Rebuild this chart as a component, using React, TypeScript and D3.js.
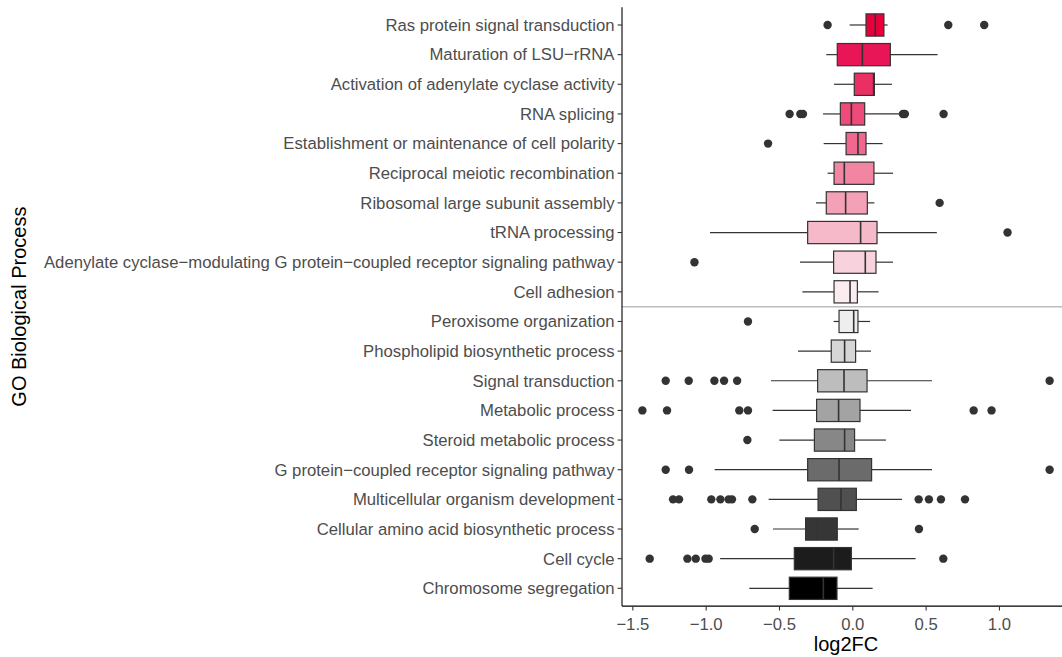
import React from "react";
import * as d3 from "d3";

// GO biological process terms, top to bottom
const categories = [
  "Ras protein signal transduction",
  "Maturation of LSU\u2212rRNA",
  "Activation of adenylate cyclase activity",
  "RNA splicing",
  "Establishment or maintenance of cell polarity",
  "Reciprocal meiotic recombination",
  "Ribosomal large subunit assembly",
  "tRNA processing",
  "Adenylate cyclase\u2212modulating G protein\u2212coupled receptor signaling pathway",
  "Cell adhesion",
  "Peroxisome organization",
  "Phospholipid biosynthetic process",
  "Signal transduction",
  "Metabolic process",
  "Steroid metabolic process",
  "G protein\u2212coupled receptor signaling pathway",
  "Multicellular organism development",
  "Cellular amino acid biosynthetic process",
  "Cell cycle",
  "Chromosome segregation",
];

// Box statistics (log2FC)
const whiskerLow = [-0.022, -0.181, -0.128, -0.203, -0.199, -0.172, -0.251, -0.974, -0.36, -0.344,
  -0.131, -0.374, -0.558, -0.547, -0.501, -0.942, -0.574, -0.544, -0.905, -0.706];
const q1 = [0.09, -0.106, 0.01, -0.085, -0.046, -0.128, -0.181, -0.308, -0.131, -0.128,
  -0.094, -0.147, -0.24, -0.247, -0.262, -0.308, -0.237, -0.322, -0.399, -0.433];
const medians = [0.153, 0.065, 0.142, -0.01, 0.035, -0.058, -0.049, 0.053, 0.085, -0.019,
  0.006, -0.056, -0.06, -0.097, -0.056, -0.094, -0.081, -0.247, -0.131, -0.201];
const q3 = [0.212, 0.256, 0.147, 0.081, 0.09, 0.144, 0.099, 0.165, 0.158, 0.031,
  0.035, 0.019, 0.097, 0.049, 0.012, 0.128, 0.024, -0.106, -0.01, -0.108];
const whiskerHigh = [0.237, 0.578, 0.267, 0.329, 0.203, 0.274, 0.147, 0.573, 0.274, 0.176,
  0.117, 0.124, 0.54, 0.397, 0.226, 0.54, 0.335, 0.04, 0.428, 0.135];
const outliers: number[][] = [
  [-0.172, 0.651, 0.896],
  [],
  [],
  [-0.431, -0.358, -0.34, 0.342, 0.355, 0.619],
  [-0.578],
  [],
  [0.592],
  [1.055],
  [-1.08],
  [],
  [-0.715],
  [],
  [-1.276, -1.119, -0.944, -0.878, -0.789, 1.342],
  [-1.435, -1.267, -0.774, -0.715, 0.824, 0.946],
  [-0.719],
  [-1.276, -1.117, 1.342],
  [-1.226, -1.185, -0.965, -0.903, -0.847, -0.824, -0.685, 0.449, 0.519, 0.601, 0.765],
  [-0.669, 0.451],
  [-1.385, -1.128, -1.071, -1.005, -0.983, 0.617],
  [],
];

const fills = [
  "#e8003c", "#e81656", "#ea2f64", "#ee4b7a", "#f0688e",
  "#f285a2", "#f4a0b6", "#f6b9ca", "#f8d3dd", "#fbecf0",
  "#eeeeee", "#d6d6d6", "#bdbdbd", "#a3a3a3", "#878787",
  "#6b6b6b", "#505050", "#363636", "#1c1c1c", "#000000",
];

const xTicks = [-1.5, -1.0, -0.5, 0.0, 0.5, 1.0];

const W = 1062;
const H = 657;
const panel = { left: 622, right: 1070, top: 7.2, bottom: 606.1 };
const FONT = "'Liberation Sans', Arial, Helvetica, sans-serif";

export default function App() {
  const x = d3.scaleLinear().domain([-1.574, 1.481]).range([panel.left, panel.right]);
  const y = d3.scalePoint<string>().domain(categories).range([panel.top, panel.bottom]).padding(0.6);
  const step = y.step();
  const bh = step * 0.75;
  const fmt = (v: number) => d3.format(".1f")(v).replace("-", "\u2212");
  const sepY = (y(categories[9])! + y(categories[10])!) / 2;
  const stroke = "#333333";

  return (
    <svg width={W} height={H} style={{ position: "absolute", left: 0, top: 0, background: "#fff" }}
      fontFamily={FONT}>
      <rect x={0} y={0} width={W} height={H} fill="#fff" />
      {/* separator between up- and down-regulated groups */}
      <line x1={panel.left} x2={panel.right} y1={sepY} y2={sepY} stroke="#bdbdbd" strokeWidth={1.5} />
      {categories.map((c, i) => {
        const cy = y(c)!;
        return (
          <g key={c}>
            <line x1={x(whiskerLow[i])} x2={x(q1[i])} y1={cy} y2={cy} stroke={stroke} strokeWidth={1.2} />
            <line x1={x(q3[i])} x2={x(whiskerHigh[i])} y1={cy} y2={cy} stroke={stroke} strokeWidth={1.2} />
            <rect x={x(q1[i])} y={cy - bh / 2} width={x(q3[i]) - x(q1[i])} height={bh}
              fill={fills[i]} stroke={stroke} strokeWidth={1.2} />
            <line x1={x(medians[i])} x2={x(medians[i])} y1={cy - bh / 2} y2={cy + bh / 2}
              stroke={stroke} strokeWidth={1.6} />
            {outliers[i].map((v, j) => (
              <circle key={j} cx={x(v)} cy={cy} r={4.2} fill={stroke} />
            ))}
          </g>
        );
      })}
      {/* axes */}
      <line x1={panel.left} x2={panel.left} y1={panel.top} y2={panel.bottom} stroke="#000" strokeWidth={1.1} />
      <line x1={panel.left} x2={panel.right} y1={panel.bottom} y2={panel.bottom} stroke="#000" strokeWidth={1.1} />
      {categories.map((c) => (
        <g key={"t" + c}>
          <line x1={panel.left - 4.4} x2={panel.left} y1={y(c)} y2={y(c)} stroke="#333" strokeWidth={1.1} />
          <text x={panel.left - 7.5} y={y(c)} dy="0.35em" textAnchor="end" fontSize={16.7} fill="#4d4d4d">{c}</text>
        </g>
      ))}
      {xTicks.map((t) => (
        <g key={"x" + t}>
          <line x1={x(t)} x2={x(t)} y1={panel.bottom} y2={panel.bottom + 4.4} stroke="#333" strokeWidth={1.1} />
          <text x={x(t)} y={629.5} textAnchor="middle" fontSize={16.7} fill="#4d4d4d">{fmt(t)}</text>
        </g>
      ))}
      <text x={(panel.left + panel.right) / 2} y={651} textAnchor="middle" fontSize={20} fill="#000">log2FC</text>
      <text transform={`translate(26, ${(panel.top + panel.bottom) / 2}) rotate(-90)`} textAnchor="middle"
        fontSize={20} fill="#000">GO Biological Process</text>
    </svg>
  );
}
